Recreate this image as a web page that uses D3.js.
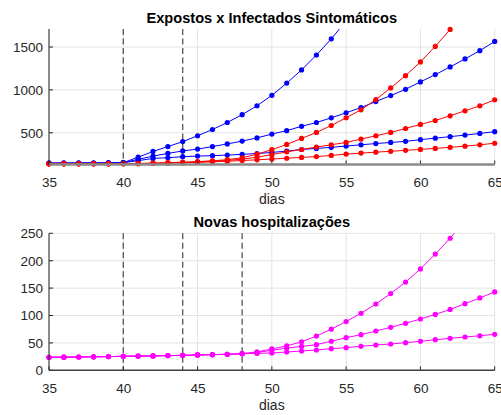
<!DOCTYPE html>
<html><head><meta charset="utf-8">
<script src="https://cdn.jsdelivr.net/npm/d3@7"></script>
<style>
html,body{margin:0;padding:0;background:#fff;}
svg{display:block;font-family:"Liberation Sans",Arial,sans-serif;}
</style></head>
<body><svg id="c" width="501" height="415"></svg>
<script>
// ---------- data ----------
const days = [35,36,37,38,39,40,41,42,43,44,45,46,47,48,49,50,51,52,53,54,55,56,57,58,59,60,61,62,63,64,65];

// Top panel: Expostos (blue) x Infectados Sintomáticos (red)
const expostos1 = [146,146,147,147,148,152,215,282,339,397,465,538,620,711,815,937,1079,1233,1407,1595,1805,2040,null,null,null,null,null,null,null,null,null];
const expostos2 = [146,146,147,147,148,152,190,228,259,288,310,339,370,403,440,485,525,575,620,674,733,794,864,934,1007,1093,1178,1268,1361,1457,1565];
const expostos3 = [146,146,147,147,148,152,175,201,209,221,228,233,240,248,258,271,286,305,318,330,345,360,374,387,400,420,437,455,473,492,513];
const infect1 = [138,138,138,138,138,139,142,146,151,157,164,173,186,208,250,303,364,434,504,585,675,768,887,1023,1166,1326,1507,1705,null,null,null];
const infect2 = [138,138,138,138,138,139,141,144,148,153,160,168,178,192,215,245,278,305,333,360,387,426,465,504,550,597,643,698,756,814,885];
const infect3 = [138,138,138,138,138,139,140,143,146,150,155,161,168,176,185,194,203,213,222,236,251,263,274,284,295,306,318,330,344,360,378];

// Bottom panel: Novas hospitalizações
const hospA = [23.7,24,24.3,24.6,25,25.5,25.9,26.3,26.8,27.3,28,28.6,29.2,30.3,33.5,39,44.5,52,62.5,75,89,104,121,140,161,185,212,241,273,null,null];
const hospB = [23.7,24,24.3,24.6,25,25.5,25.9,26.3,26.8,27.3,28,28.6,29.2,30.3,32.5,36.5,40.5,43.5,46.8,53,59.5,65,71.7,78.4,85.7,93.6,102,111,121.5,132,143];
const hospC = [23.7,24,24.3,24.6,25,25.5,25.9,26.3,26.8,27.3,28,28.6,29.2,30.3,30.8,31.6,33.4,35.2,37,39.5,41.3,43.8,46.2,48,50.4,52.9,55.8,58.3,60.8,63,65.7];

const xTicks = [35,40,45,50,55,60,65];
const topYTicks = [500,1000,1500];
const botYTicks = [0,50,100,150,200,250];
const topDashes = [40,44];
const botDashes = [40,44,48];
const topTitle = "Expostos x Infectados Sintomáticos";
const botTitle = "Novas hospitalizações";
const xLabel = "dias";

// ---------- drawing ----------
const svg = d3.select("#c");
const TXT = "#262626";

function panel(o){
  const g = svg.append("g");
  const x = d3.scaleLinear().domain([35,65]).range([49,494.7]);
  const y = d3.scaleLinear().domain(o.yDomain).range([o.bottom,o.top]);
  const id = "clip"+o.name;
  svg.append("clipPath").attr("id",id).append("rect")
    .attr("x",49).attr("y",o.top).attr("width",494.7-49).attr("height",o.bottom-o.top);

  // grid
  g.append("g").selectAll("line").data(xTicks).join("line")
    .attr("x1",d=>x(d)).attr("x2",d=>x(d)).attr("y1",o.top).attr("y2",o.bottom)
    .attr("stroke","#e3e3e3").attr("stroke-width",1);
  g.append("g").selectAll("line").data(o.yTicks).join("line")
    .attr("x1",49).attr("x2",494.7).attr("y1",d=>y(d)).attr("y2",d=>y(d))
    .attr("stroke","#e3e3e3").attr("stroke-width",1);

  // dashed lines
  g.append("g").selectAll("line").data(o.dashes).join("line")
    .attr("x1",d=>x(d)).attr("x2",d=>x(d)).attr("y1",o.top).attr("y2",o.bottom)
    .attr("stroke","#555").attr("stroke-width",1.3).attr("stroke-dasharray","6,3.5");

  // series
  const line = d3.line().defined(d=>d[1]!=null).x(d=>x(d[0])).y(d=>y(d[1]));
  o.series.forEach(s=>{
    const pts = days.map((d,i)=>[d,s.values[i]]);
    g.append("path").attr("d",line(pts)).attr("fill","none")
      .attr("stroke",s.color).attr("stroke-width",1).attr("clip-path",`url(#${id})`);
    g.append("g").selectAll("circle")
      .data(pts.filter(p=>p[1]!=null && p[1]>=o.yDomain[0] && p[1]<=o.yDomain[1]))
      .join("circle").attr("cx",p=>x(p[0])).attr("cy",p=>y(p[1])).attr("r",2.6)
      .attr("fill",s.color);
  });

  // axes
  const xa = d3.axisBottom(x).tickValues(xTicks).tickSize(0).tickPadding(0);
  const xg = g.append("g").attr("transform",`translate(0,${o.bottom})`).call(xa);
  xg.select(".domain").remove();
  xg.selectAll("text").attr("fill",TXT).attr("font-size","13.5px").attr("dy",null).attr("y",22.5);
  xg.selectAll("line").remove();
  // inward tick marks
  g.append("g").selectAll("line").data(xTicks).join("line")
    .attr("x1",d=>x(d)).attr("x2",d=>x(d)).attr("y1",o.bottom).attr("y2",o.bottom-4)
    .attr("stroke",TXT).attr("stroke-width",1);
  g.append("g").selectAll("line").data(o.yTicks).join("line")
    .attr("x1",49).attr("x2",53).attr("y1",d=>y(d)).attr("y2",d=>y(d))
    .attr("stroke",TXT).attr("stroke-width",1);
  g.append("line").attr("x1",49).attr("x2",494.7).attr("y1",o.bottom).attr("y2",o.bottom)
    .attr("stroke",o.xAxisColor).attr("stroke-width",o.xAxisWidth);
  g.append("line").attr("x1",49).attr("x2",49).attr("y1",o.top).attr("y2",o.bottom)
    .attr("stroke",TXT).attr("stroke-width",1);
  g.append("g").selectAll("text").data(o.yTicks).join("text")
    .attr("x",43).attr("y",d=>y(d)).attr("dy","0.36em").attr("text-anchor","end")
    .attr("fill",TXT).attr("font-size","13.5px").text(d=>d);

  g.append("text").attr("x",271.8).attr("y",o.bottom+39.7).attr("text-anchor","middle")
    .attr("fill",TXT).attr("font-size","14px").text(xLabel);
  g.append("text").attr("x",271.8).attr("y",o.titleY).attr("text-anchor","middle")
    .attr("fill","#000").attr("font-size","14.6px").attr("font-weight","bold").text(o.title);
}

panel({name:"t", top:29, bottom:164.5, yDomain:[130,1710], yTicks:topYTicks, dashes:topDashes,
  title:topTitle, titleY:22.5, xAxisColor:"#8a8a8a", xAxisWidth:2.5,
  series:[
    {values:expostos1,color:"#0000ff"},{values:expostos2,color:"#0000ff"},{values:expostos3,color:"#0000ff"},
    {values:infect1,color:"#ff0000"},{values:infect2,color:"#ff0000"},{values:infect3,color:"#ff0000"}
  ]});
panel({name:"b", top:233.3, bottom:370.3, yDomain:[0,250], yTicks:botYTicks, dashes:botDashes,
  title:botTitle, titleY:226.5, xAxisColor:"#404040", xAxisWidth:1.5,
  series:[
    {values:hospA,color:"#ff00ff"},{values:hospB,color:"#ff00ff"},{values:hospC,color:"#ff00ff"}
  ]});
</script></body></html>
